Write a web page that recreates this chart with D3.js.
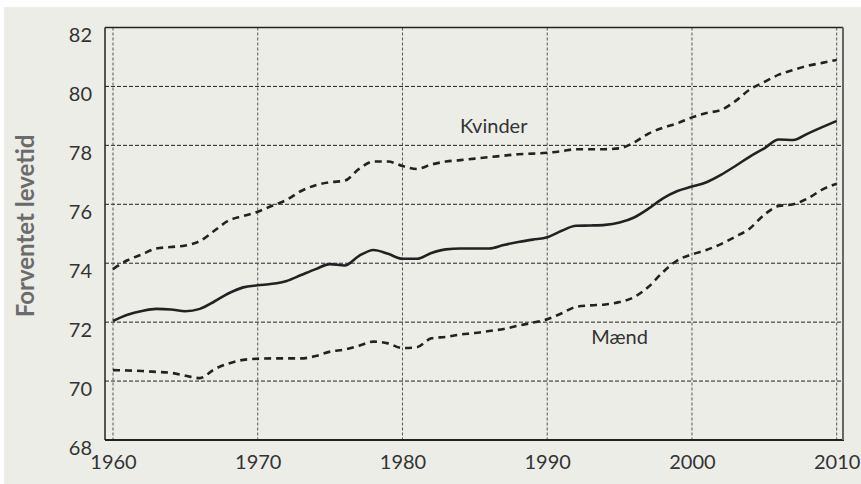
<!DOCTYPE html>
<html>
<head>
<meta charset="utf-8">
<script src="https://cdn.jsdelivr.net/npm/d3@7"></script>
<style>
  html, body { margin: 0; padding: 0; background: #fff; }
  svg { display: block; font-family: Lato, "Open Sans", sans-serif; }
</style>
</head>
<body>
<svg id="chart" width="861" height="484"></svg>
<script>
// ---- data ----
const years = d3.range(1960, 2011);
const kvinder = [73.8, 74.1, 74.3, 74.5, 74.55, 74.6, 74.75, 75.1, 75.45, 75.6,
  75.75, 75.95, 76.15, 76.45, 76.65, 76.75, 76.8, 77.2, 77.45, 77.45,
  77.3, 77.2, 77.35, 77.45, 77.5, 77.55, 77.6, 77.65, 77.7, 77.72,
  77.75, 77.8, 77.87, 77.87, 77.87, 77.9, 78.1, 78.4, 78.6, 78.75,
  78.95, 79.1, 79.2, 79.5, 79.9, 80.15, 80.4, 80.56, 80.7, 80.8, 80.9];
const maend = [70.37, 70.36, 70.34, 70.31, 70.28, 70.18, 70.1, 70.4, 70.6, 70.72,
  70.76, 70.77, 70.77, 70.77, 70.85, 71.0, 71.07, 71.2, 71.34, 71.28,
  71.12, 71.15, 71.45, 71.5, 71.58, 71.63, 71.7, 71.77, 71.88, 71.98,
  72.1, 72.3, 72.52, 72.57, 72.6, 72.68, 72.85, 73.2, 73.7, 74.1,
  74.3, 74.45, 74.65, 74.9, 75.18, 75.65, 75.94, 76.0, 76.2, 76.5, 76.7];
const total = [72.04, 72.25, 72.38, 72.45, 72.43, 72.37, 72.45, 72.7, 72.98, 73.18,
  73.25, 73.3, 73.4, 73.6, 73.8, 73.97, 73.92, 74.25, 74.45, 74.32,
  74.15, 74.15, 74.35, 74.47, 74.5, 74.5, 74.5, 74.62, 74.72, 74.8,
  74.88, 75.1, 75.27, 75.28, 75.3, 75.38, 75.55, 75.85, 76.2, 76.45,
  76.6, 76.75, 77.0, 77.3, 77.62, 77.9, 78.2, 78.18, 78.4, 78.62, 78.83];
const xTicks = [1960, 1970, 1980, 1990, 2000, 2010];
const yTicks = [68, 70, 72, 74, 76, 78, 80, 82];
const labels = [
  {text: 'Kvinder', year: 1986.3, value: 78.42},
  {text: 'Mænd', year: 1995.0, value: 71.25}
];

// ---- layout ----
const svg = d3.select('#chart');
svg.append('rect').attr('x', 4).attr('y', 7).attr('width', 857).attr('height', 477).attr('fill', '#ededE8');

const frame = {left: 105, right: 843, top: 27.5, bottom: 440};
const x = d3.scaleLinear().domain([1960, 2010]).range([113, 836.7]);
const y = d3.scaleLinear().domain([68, 82]).range([frame.bottom, frame.top]);

// grid
const grid = svg.append('g');
grid.selectAll('line.h').data(yTicks.filter(d => d > 68 && d < 82)).join('line')
  .attr('class', 'h')
  .attr('x1', frame.left).attr('x2', frame.right)
  .attr('y1', d => y(d)).attr('y2', d => y(d))
  .attr('stroke', '#222').attr('stroke-width', 1).attr('stroke-dasharray', '4,2');
grid.selectAll('line.v').data(xTicks).join('line')
  .attr('class', 'v')
  .attr('x1', d => x(d)).attr('x2', d => x(d))
  .attr('y1', frame.top).attr('y2', frame.bottom)
  .attr('stroke', '#555').attr('stroke-width', 1).attr('stroke-dasharray', '3,2');

// frame
svg.append('line').attr('x1', frame.left).attr('x2', frame.right).attr('y1', frame.top).attr('y2', frame.top)
  .attr('stroke', '#222').attr('stroke-width', 1.5);
svg.append('line').attr('x1', frame.left).attr('x2', frame.left).attr('y1', frame.top).attr('y2', frame.bottom)
  .attr('stroke', '#222').attr('stroke-width', 1.5);
svg.append('line').attr('x1', frame.left).attr('x2', frame.right + 1).attr('y1', frame.bottom).attr('y2', frame.bottom)
  .attr('stroke', '#222').attr('stroke-width', 1.8);
svg.append('line').attr('x1', frame.right).attr('x2', frame.right).attr('y1', frame.top).attr('y2', frame.bottom)
  .attr('stroke', '#666').attr('stroke-width', 2);

// axes (tick labels only)
const yAxis = svg.append('g').attr('transform', `translate(${frame.left},0)`)
  .call(d3.axisLeft(y).tickValues(yTicks).tickSize(0).tickPadding(13));
const xAxis = svg.append('g').attr('transform', `translate(0,${frame.bottom})`)
  .call(d3.axisBottom(x).tickValues(xTicks).tickFormat(d3.format('d')).tickSize(0).tickPadding(15));
[yAxis, xAxis].forEach(a => {
  a.select('.domain').remove();
  a.selectAll('text').attr('fill', '#333').attr('font-size', 20).attr('font-family', 'Lato, sans-serif');
});
yAxis.selectAll('text').attr('dy', '0.72em');

// series
const line = d3.line().x((d, i) => x(years[i])).y(d => y(d)).curve(d3.curveMonotoneX);
const series = [
  {values: kvinder, dash: '7,5'},
  {values: maend, dash: '7,5'},
  {values: total, dash: null}
];
svg.append('g').selectAll('path').data(series).join('path')
  .attr('d', d => line(d.values))
  .attr('fill', 'none')
  .attr('stroke', '#222')
  .attr('stroke-width', 2.6)
  .attr('stroke-dasharray', d => d.dash);

// labels
svg.append('g').selectAll('text').data(labels).join('text')
  .attr('x', d => x(d.year)).attr('y', d => y(d.value))
  .attr('text-anchor', 'middle')
  .attr('fill', '#333').attr('font-size', 20)
  .text(d => d.text);

// y title
svg.append('text')
  .attr('transform', 'translate(34,226) rotate(-90)')
  .attr('text-anchor', 'middle')
  .attr('fill', '#6b6b6b').attr('font-size', 24).attr('font-weight', 'bold')
  .text('Forventet levetid');
</script>
</body>
</html>
